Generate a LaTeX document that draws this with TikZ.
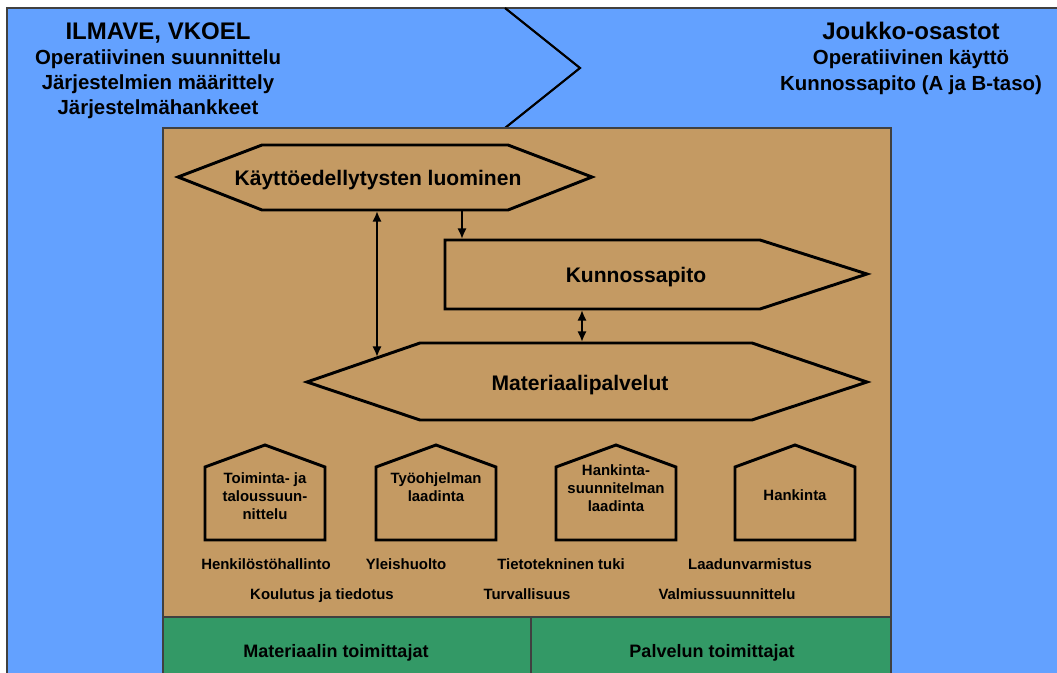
\documentclass[tikz,border=0pt]{standalone}
\usepackage{fontspec}
\setmainfont{Liberation Sans}
\usetikzlibrary{arrows.meta}
\definecolor{sky}{RGB}{99,161,255}
\definecolor{sand}{RGB}{196,154,99}
\definecolor{moss}{RGB}{51,153,102}
\begin{document}
\begin{tikzpicture}[x=0.75pt,y=-0.75pt,
  frame/.style={draw=black!75,line width=1pt},
  outline/.style={draw=black,line width=2.2pt,line join=miter,fill=sand},
  link/.style={line width=2pt,-{Latex[length=8pt,width=7pt]}},
  duplex/.style={line width=2pt,{Latex[length=8pt,width=7pt]}-{Latex[length=8pt,width=7pt]}},
  head/.style={font=\bfseries\fontsize{18}{20}\selectfont,anchor=base,inner sep=0pt},
  sub/.style={font=\bfseries\fontsize{15.3}{18}\selectfont,anchor=base,inner sep=0pt},
  big/.style={font=\bfseries\fontsize{15.8}{18}\selectfont,anchor=base,inner sep=0pt},
  small/.style={font=\bfseries\fontsize{11.2}{13}\selectfont,anchor=base,inner sep=0pt},
  supplier/.style={font=\bfseries\fontsize{13.5}{16}\selectfont,anchor=base,inner sep=0pt}]
\useasboundingbox (0,0) rectangle (1057,672);
\fill[white] (0,0) rectangle (1057,672);

% background zones
\path[fill=sky,frame] (7,8) rectangle (1070,690);
\draw[line width=1.6pt,line join=miter] (505,8) -- (580,68) -- (505,128);
\path[fill=sand,frame] (163,128) rectangle (891,617);
\path[fill=moss,frame] (163,617) rectangle (531,690);
\path[fill=moss,frame] (531,617) rectangle (891,690);

% zone headings
\node[head] (ilmave) at (158,39) {ILMAVE, VKOEL};
\node[sub] (opsuun) at (158,64) {Operatiivinen suunnittelu};
\node[sub] (jmaar) at (158,89) {Järjestelmien määrittely};
\node[sub] (jhank) at (158,114) {Järjestelmähankkeet};
\node[head] (joukko) at (911,39) {Joukko-osastot};
\node[sub] (opkay) at (911,64) {Operatiivinen käyttö};
\node[sub] (kab) at (911,90) {Kunnossapito (A ja B-taso)};

% main process shapes
\draw[outline] (178,177) -- (262,145) -- (508,145) -- (592,177) -- (508,210) -- (262,210) -- cycle;
\node[big] (kaytto) at (378,185) {Käyttöedellytysten luominen};
\draw[outline] (445,240) -- (760,240) -- (867,274) -- (760,309) -- (445,309) -- cycle;
\node[big] (kunn) at (636,282) {Kunnossapito};
\draw[outline] (307,382) -- (420,343) -- (752,343) -- (867,382) -- (752,420) -- (420,420) -- cycle;
\node[big] (mater) at (580,390) {Materiaalipalvelut};

% connector ends on the shape borders
\coordinate (kayttoA) at (377,211);
\coordinate (kayttoB) at (462,211);
\coordinate (kunnTop) at (462,239);
\coordinate (kunnBot) at (582,310);
\coordinate (materTop) at (582,342);
\coordinate (materEdge) at (377,357);
\draw[duplex] (kayttoA) -- (materEdge);
\draw[link] (kayttoB) -- (kunnTop);
\draw[duplex] (kunnBot) -- (materTop);

% sub-process houses
\foreach \cx in {265,436,616,795}{
  \draw[outline] (\cx-60,540) -- (\cx-60,467) -- (\cx,445) -- (\cx+60,467) -- (\cx+60,540) -- cycle;
}
\node[small] (toim1) at (265,483) {Toiminta- ja};
\node[small] (toim2) at (265,501) {taloussuun-};
\node[small] (toim3) at (265,519) {nittelu};
\node[small] (tyo1) at (436,483) {Työohjelman};
\node[small] (tyo2) at (436,501) {laadinta};
\node[small] (hs1) at (616,475) {Hankinta-};
\node[small] (hs2) at (616,493) {suunnitelman};
\node[small] (hs3) at (616,511) {laadinta};
\node[small] (hank) at (795,500) {Hankinta};

% support functions
\node[small] (henk) at (266,569) {Henkilöstöhallinto};
\node[small] (yleis) at (406,569) {Yleishuolto};
\node[small] (tieto) at (561,569) {Tietotekninen tuki};
\node[small] (laatu) at (750,569) {Laadunvarmistus};
\node[small] (koul) at (322,599) {Koulutus ja tiedotus};
\node[small] (turva) at (527,599) {Turvallisuus};
\node[small] (valm) at (727,599) {Valmiussuunnittelu};

% suppliers
\node[supplier] (mtoim) at (336,657) {Materiaalin toimittajat};
\node[supplier] (ptoim) at (712,657) {Palvelun toimittajat};
\end{tikzpicture}
\end{document}
